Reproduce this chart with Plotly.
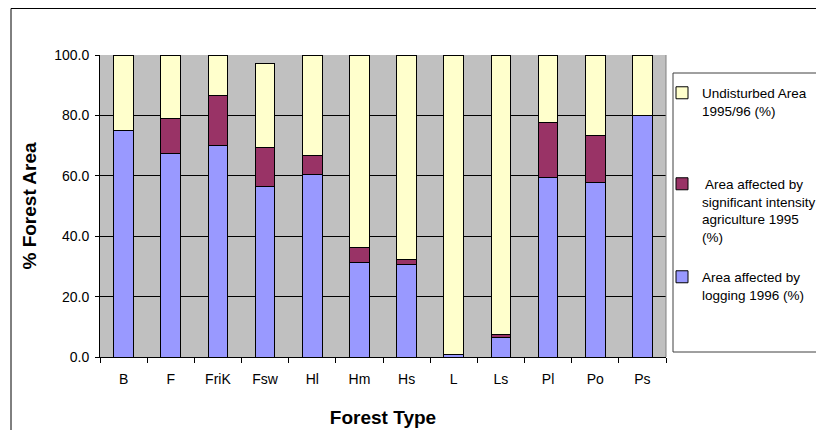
import plotly.graph_objects as go

categories = ["B", "F", "FriK", "Fsw", "Hl", "Hm", "Hs", "L", "Ls", "Pl", "Po", "Ps"]
logging_1996 = [75.0, 67.3, 70.1, 56.3, 60.5, 31.2, 30.5, 0.7, 6.3, 59.3, 57.7, 80.0]
agriculture_1995 = [0.0, 11.6, 16.4, 13.0, 6.1, 5.2, 1.9, 0.0, 1.1, 18.5, 15.8, 0.0]
undisturbed_1995_96 = [25.0, 21.1, 13.5, 28.0, 33.4, 63.6, 67.6, 99.3, 92.6, 22.2, 26.5, 20.0]

name_log = "Area affected by<br>logging 1996 (%)"
name_agr = " Area affected by<br>significant intensity<br>agriculture 1995<br>(%)"
name_und = "Undisturbed Area<br>1995/96 (%)"

OFF = 8  # page body margin
W, H = 824 - OFF, 430 - OFF
L, T = 100 - OFF, 55 - OFF
pw, ph = 566, 302
R, B = W - L - pw, H - T - ph

def px(x):  # window pixel x -> paper
    return (x - OFF - L) / pw

def py(y):  # window pixel y -> paper
    return (H - B - (y - OFF)) / ph

def cx(x):  # window pixel x -> container
    return (x - OFF) / W

def cy(y):  # window pixel y -> container
    return 1 - (y - OFF) / H

line = dict(color="black", width=1)
fig = go.Figure()
fig.add_trace(go.Bar(x=categories, y=logging_1996, name=name_log,
                     marker=dict(color="#9999FF", line=line), legend="legend3"))
fig.add_trace(go.Bar(x=categories, y=agriculture_1995, name=name_agr,
                     marker=dict(color="#993366", line=line), legend="legend2"))
fig.add_trace(go.Bar(x=categories, y=undisturbed_1995_96, name=name_und,
                     marker=dict(color="#FFFFCC", line=line), legend="legend"))

font = "Liberation Sans, Arial, sans-serif"
leg_common = dict(xref="container", yref="container", xanchor="left", yanchor="top",
                  bgcolor="rgba(0,0,0,0)", borderwidth=0, valign="top",
                  font=dict(family=font, size=13.5, color="black"))

LX = cx(662)
fig.update_layout(
    width=W, height=H,
    margin=dict(l=L, r=R, t=T, b=B, pad=0, autoexpand=False),
    paper_bgcolor="white",
    plot_bgcolor="#C0C0C0",
    barmode="stack",
    bargap=0.58,
    font=dict(family=font, color="black"),
    showlegend=True,
    legend=dict(x=LX, y=cy(77.5), **leg_common),
    legend2=dict(x=LX, y=cy(168.5), **leg_common),
    legend3=dict(x=LX, y=cy(261.5), **leg_common),
    xaxis=dict(
        type="category",
        tickson="boundaries",
        ticks="outside", ticklen=5, tickcolor="black",
        ticklabelstandoff=9,
        showline=True, linecolor="black", linewidth=1,
        showgrid=False,
        tickfont=dict(family=font, size=14, color="black"),
        title=dict(text="<b>Forest Type</b>", font=dict(family=font, size=19, color="black"), standoff=24),
    ),
    yaxis=dict(
        range=[0, 100], dtick=20, tickformat=".1f",
        ticks="outside", ticklen=4, tickcolor="black",
        ticklabelstandoff=3,
        showline=True, linecolor="black", linewidth=1,
        showgrid=True, gridcolor="black", gridwidth=1,
        zeroline=False,
        tickfont=dict(family=font, size=14, color="black"),
        title=dict(text="<b>% Forest Area</b>", font=dict(family=font, size=19, color="black"), standoff=12),
    ),
    shapes=[
        # outer chart border (extends beyond the view on right/bottom)
        dict(type="rect", xref="paper", yref="paper", x0=px(11), x1=px(850), y0=py(460), y1=py(8.5),
             line=dict(color="black", width=1), fillcolor="rgba(0,0,0,0)", layer="below"),
        # legend box
        dict(type="rect", xref="paper", yref="paper", x0=px(673), x1=px(840), y0=py(352), y1=py(73),
             line=dict(color="#404040", width=1), fillcolor="white", layer="below"),
        # right plot-area border
        dict(type="line", xref="paper", yref="paper", x0=1, x1=1, y0=0, y1=1,
             line=dict(color="#808080", width=1)),
    ],
)

fig.write_html("out.html")
